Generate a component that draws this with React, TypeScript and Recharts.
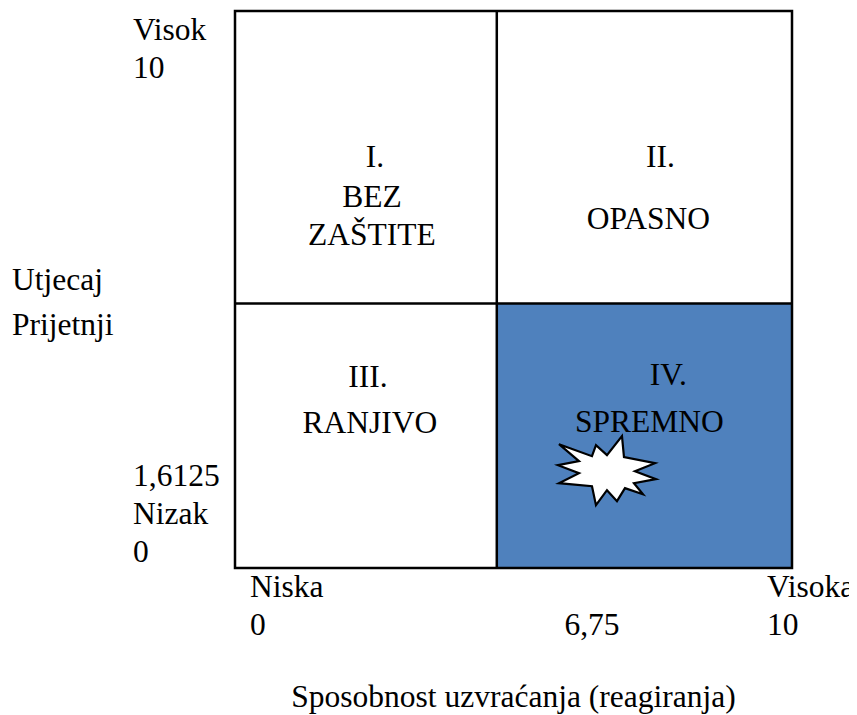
import React from "react";
import {
  ScatterChart,
  Scatter,
  XAxis,
  YAxis,
  ReferenceArea,
  ReferenceLine,
} from "recharts";

// axis ticks and their (multi-line) labels
const xTicks = [0, 6.75, 10];
const xTickLabels = [["Niska", "0"], ["", "6,75"], ["Visoka", "10"]];
const yTicks = [0, 1.6125, 10];
const yTickLabels = [["Nizak", "0"], ["1,6125"], ["Visok", "10"]];

// where the matrix is split
const dividerX = 4.7;
const dividerY = 4.75;

const quadrantNumerals = ["I.", "II.", "III.", "IV."];
const quadrantNames = [["BEZ", "ZAŠTITE"], ["OPASNO"], ["RANJIVO"], ["SPREMNO"]];

// current position (sposobnost, utjecaj)
const readinessPoint = [{ x: 6.75, y: 1.6125 }];

const xTitle = "Sposobnost uzvraćanja (reagiranja)";
const yTitle = ["Utjecaj", "Prijetnji"];

const FONT = "Liberation Serif, Times New Roman, serif";
const SIZE = 31.5;
const LINE = 37.5;

const txt = { fontFamily: FONT, fontSize: SIZE, fill: "#000" };

const XTick = (props: any) => {
  const { x, y, payload, index } = props;
  const lines = xTickLabels[index] || [String(payload.value)];
  // first tick sits inside the box, the middle one is centered, last one overhangs
  const dx = [15, -19, -25][index];
  const anchor = index === 1 ? "middle" : "start";
  return (
    <text x={x + dx} y={y} style={txt} textAnchor={anchor}>
      {lines.map((l, i) => (
        <tspan key={i} x={x + dx} y={y + 29 + i * LINE}>
          {l}
        </tspan>
      ))}
    </text>
  );
};

const YTick = (props: any) => {
  const { x, y, index } = props;
  const lines = yTickLabels[index];
  const left = x - 102;
  // top tick reads downward, bottom tick reads upward, middle centred on its value
  let start = y + 8;
  if (index === 0) start = y - 44;
  if (index === 2) start = y + 29;
  return (
    <text x={left} y={start} style={txt}>
      {lines.map((l, i) => (
        <tspan key={i} x={left} y={start + i * LINE}>
          {l}
        </tspan>
      ))}
    </text>
  );
};

const quadLayout = [
  { numDx: 9, numY: 156, nameDx: 6, nameY: 196 },
  { numDx: 16, numY: 156, nameDx: 4, nameY: 218 },
  { numDx: 2, numY: 84, nameDx: 4, nameY: 130 },
  { numDx: 24, numY: 82, nameDx: 5, nameY: 129 },
];

const QuadrantLabel = (props: any) => {
  const { viewBox, idx } = props;
  if (!viewBox) return null;
  const cx = viewBox.x + viewBox.width / 2;
  const l = quadLayout[idx];
  return (
    <g>
      <text x={cx + l.numDx} y={viewBox.y + l.numY} textAnchor="middle" style={txt}>
        {quadrantNumerals[idx]}
      </text>
      {quadrantNames[idx].map((n, i) => (
        <text key={i} x={cx + l.nameDx} y={viewBox.y + l.nameY + i * LINE} textAnchor="middle" style={txt}>
          {n}
        </text>
      ))}
    </g>
  );
};

const starPts = [
  [-48, -29], [-15, -17], [-11, -28], [0, -18], [15, -37], [17, -16],
  [48, -10], [28, -2], [49, 6], [27, 10], [36, 21], [18, 15],
  [10, 28], [0, 17], [-11, 32], [-15, 13], [-48, 10], [-28, 0],
  [-49, -8], [-28, -12],
];

const Explosion = (props: any) => {
  const { cx, cy } = props;
  const pts = starPts.map(([dx, dy]) => `${cx + dx - 4},${cy + dy - 5}`).join(" ");
  return <polygon points={pts} fill="#fff" stroke="#000" strokeWidth={2.2} strokeLinejoin="miter" />;
};

const YTitle = (props: any) => {
  const { viewBox } = props;
  const midY = viewBox.y + viewBox.height / 2;
  return (
    <text style={txt}>
      {yTitle.map((t, i) => (
        <tspan key={i} x={viewBox.x + 4} y={midY + i * 45}>
          {t}
        </tspan>
      ))}
    </text>
  );
};

export default function App() {
  const boxes = [
    { x1: 0, x2: dividerX, y1: dividerY, y2: 10 },
    { x1: dividerX, x2: 10, y1: dividerY, y2: 10 },
    { x1: 0, x2: dividerX, y1: 0, y2: dividerY },
    { x1: dividerX, x2: 10, y1: 0, y2: dividerY },
  ];
  return (
    <div style={{ width: 849, height: 707, fontFamily: FONT }}>
      <style>{`.recharts-surface { overflow: visible; }`}</style>
      <ScatterChart width={849} height={707} margin={{ top: 3, right: 65, bottom: 0, left: 0 }}>
        <XAxis
          type="number"
          dataKey="x"
          domain={[0, 10]}
          ticks={xTicks}
          axisLine={false}
          tickLine={false}
          tickSize={0}
          tickMargin={0}
          height={147}
          interval={0}
          tick={<XTick />}
          label={{
            value: xTitle,
            position: "insideBottom",
            offset: 8,
            style: txt,
          }}
        />
        <YAxis
          type="number"
          dataKey="y"
          domain={[0, 10]}
          ticks={yTicks}
          axisLine={false}
          tickLine={false}
          tickSize={0}
          tickMargin={0}
          width={227}
          interval={0}
          tick={<YTick />}
          label={<YTitle />}
        />
        <ReferenceArea x1={dividerX} x2={10} y1={0} y2={dividerY} fill="#4F81BD" fillOpacity={1} stroke="none" />
        {boxes.map((b, i) => (
          <ReferenceArea
            key={i}
            {...b}
            fill="none"
            stroke="none"
            label={<QuadrantLabel idx={i} />}
          />
        ))}
        <ReferenceLine x={dividerX} stroke="#000" strokeWidth={2.5} />
        <ReferenceLine y={dividerY} stroke="#000" strokeWidth={2.5} />
        <ReferenceArea x1={0} x2={10} y1={0} y2={10} fill="none" stroke="#000" strokeWidth={2.5} />
        <Scatter data={readinessPoint} shape={<Explosion />} isAnimationActive={false} />
      </ScatterChart>
    </div>
  );
}
